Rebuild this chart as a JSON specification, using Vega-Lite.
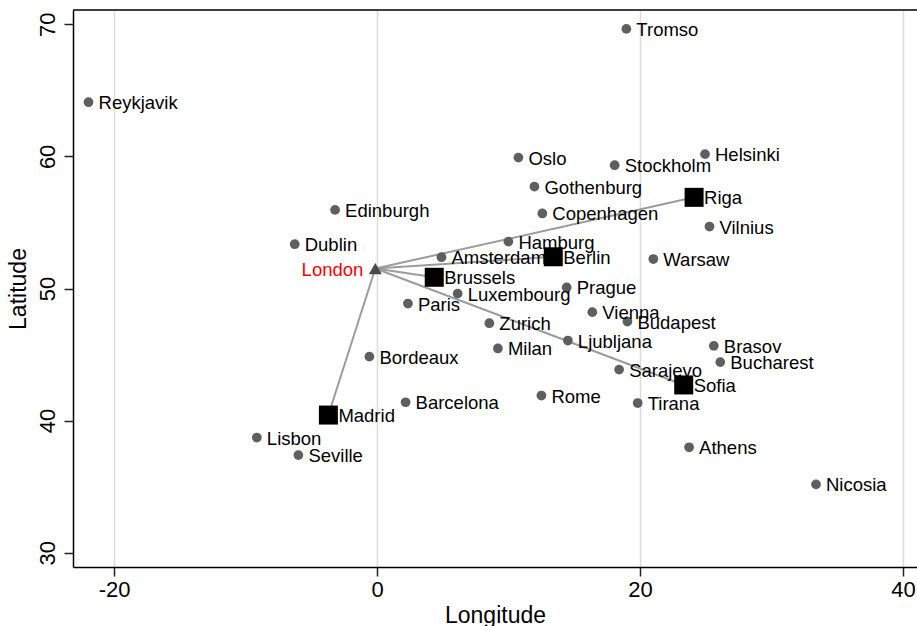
{
  "$schema": "https://vega.github.io/schema/vega-lite/v6.json",
  "width": 844,
  "height": 557,
  "autosize": "none",
  "padding": {"left": 73, "top": 10, "right": 0, "bottom": 59},
  "background": "white",
  "config": {
    "view": {"stroke": null},
    "font": "Liberation Sans",
    "axis": {
      "labelFont": "Liberation Sans",
      "titleFont": "Liberation Sans",
      "labelColor": "black",
      "titleColor": "black",
      "titleFontWeight": "normal",
      "domainColor": "black",
      "domainWidth": 1.5,
      "tickColor": "#222222",
      "tickWidth": 1.5,
      "tickSize": 9,
      "labelFontSize": 22,
      "titleFontSize": 23
    }
  },
  "datasets": {
    "cities": [
      {"name": "Reykjavik", "lon": -21.94, "lat": 64.1, "kind": "city"},
      {"name": "Tromso", "lon": 18.96, "lat": 69.65, "kind": "city"},
      {"name": "Oslo", "lon": 10.75, "lat": 59.91, "kind": "city"},
      {"name": "Stockholm", "lon": 18.07, "lat": 59.33, "kind": "city"},
      {"name": "Helsinki", "lon": 24.94, "lat": 60.17, "kind": "city"},
      {"name": "Gothenburg", "lon": 11.97, "lat": 57.71, "kind": "city"},
      {"name": "Riga", "lon": 24.11, "lat": 56.9, "kind": "dest"},
      {"name": "Edinburgh", "lon": -3.19, "lat": 55.95, "kind": "city"},
      {"name": "Copenhagen", "lon": 12.57, "lat": 55.68, "kind": "city"},
      {"name": "Vilnius", "lon": 25.28, "lat": 54.69, "kind": "city"},
      {"name": "Dublin", "lon": -6.26, "lat": 53.35, "kind": "city"},
      {"name": "Hamburg", "lon": 9.99, "lat": 53.55, "kind": "city"},
      {"name": "Amsterdam", "lon": 4.9, "lat": 52.37, "kind": "city"},
      {"name": "Berlin", "lon": 13.4, "lat": 52.4, "kind": "dest"},
      {"name": "Warsaw", "lon": 21.01, "lat": 52.23, "kind": "city"},
      {"name": "London", "lon": -0.13, "lat": 51.51, "kind": "origin"},
      {"name": "Brussels", "lon": 4.35, "lat": 50.85, "kind": "dest"},
      {"name": "Luxembourg", "lon": 6.13, "lat": 49.61, "kind": "city"},
      {"name": "Prague", "lon": 14.42, "lat": 50.08, "kind": "city"},
      {"name": "Paris", "lon": 2.35, "lat": 48.86, "kind": "city"},
      {"name": "Vienna", "lon": 16.37, "lat": 48.21, "kind": "city"},
      {"name": "Budapest", "lon": 19.04, "lat": 47.5, "kind": "city"},
      {"name": "Zurich", "lon": 8.54, "lat": 47.37, "kind": "city"},
      {"name": "Ljubljana", "lon": 14.51, "lat": 46.06, "kind": "city"},
      {"name": "Brasov", "lon": 25.61, "lat": 45.66, "kind": "city"},
      {"name": "Bordeaux", "lon": -0.58, "lat": 44.84, "kind": "city"},
      {"name": "Milan", "lon": 9.19, "lat": 45.46, "kind": "city"},
      {"name": "Bucharest", "lon": 26.1, "lat": 44.43, "kind": "city"},
      {"name": "Sarajevo", "lon": 18.41, "lat": 43.86, "kind": "city"},
      {"name": "Sofia", "lon": 23.32, "lat": 42.7, "kind": "dest"},
      {"name": "Rome", "lon": 12.5, "lat": 41.9, "kind": "city"},
      {"name": "Barcelona", "lon": 2.17, "lat": 41.39, "kind": "city"},
      {"name": "Tirana", "lon": 19.82, "lat": 41.33, "kind": "city"},
      {"name": "Madrid", "lon": -3.7, "lat": 40.42, "kind": "dest"},
      {"name": "Lisbon", "lon": -9.14, "lat": 38.72, "kind": "city"},
      {"name": "Athens", "lon": 23.73, "lat": 37.98, "kind": "city"},
      {"name": "Seville", "lon": -5.98, "lat": 37.39, "kind": "city"},
      {"name": "Nicosia", "lon": 33.38, "lat": 35.17, "kind": "city"}
    ],
    "routes": [
      {"to": "Madrid", "lon1": -0.13, "lat1": 51.51, "lon2": -3.7, "lat2": 40.42},
      {"to": "Brussels", "lon1": -0.13, "lat1": 51.51, "lon2": 4.35, "lat2": 50.85},
      {"to": "Berlin", "lon1": -0.13, "lat1": 51.51, "lon2": 13.4, "lat2": 52.4},
      {"to": "Riga", "lon1": -0.13, "lat1": 51.51, "lon2": 24.11, "lat2": 56.9},
      {"to": "Sofia", "lon1": -0.13, "lat1": 51.51, "lon2": 23.32, "lat2": 42.7}
    ]
  },
  "layer": [
    {
      "data": {"name": "routes"},
      "mark": {"type": "rule", "color": "#9c9c9c", "strokeWidth": 2},
      "encoding": {
        "x": {
          "field": "lon1", "type": "quantitative",
          "scale": {"domain": [-23.12, 41.06], "nice": false, "zero": false},
          "axis": {
            "title": "Longitude",
            "values": [-20, 0, 20, 40],
            "labelExpr": "toString(datum.value)",
            "grid": true,
            "gridColor": "#dcdcdc",
            "gridWidth": 1.5,
            "labelPadding": 3,
            "titlePadding": 4,
            "labelFlush": false
          }
        },
        "y": {
          "field": "lat1", "type": "quantitative",
          "scale": {"domain": [28.92, 71.08], "nice": false, "zero": false},
          "axis": {
            "title": "Latitude",
            "values": [30, 40, 50, 60, 70],
            "grid": false,
            "labelAngle": 270,
            "labelAlign": "center",
            "labelBaseline": "alphabetic",
            "labelPadding": 10,
            "titlePadding": 6,
            "labelFlush": false
          }
        },
        "x2": {"field": "lon2"},
        "y2": {"field": "lat2"}
      }
    },
    {
      "data": {"name": "cities"},
      "transform": [{"filter": "datum.kind === 'city'"}],
      "mark": {"type": "circle", "size": 95, "color": "#5f5f5f", "opacity": 1},
      "encoding": {
        "x": {"field": "lon", "type": "quantitative"},
        "y": {"field": "lat", "type": "quantitative"}
      }
    },
    {
      "data": {"name": "cities"},
      "transform": [{"filter": "datum.kind === 'dest'"}],
      "mark": {"type": "square", "size": 361, "color": "black", "opacity": 1},
      "encoding": {
        "x": {"field": "lon", "type": "quantitative"},
        "y": {"field": "lat", "type": "quantitative"}
      }
    },
    {
      "data": {"name": "cities"},
      "transform": [{"filter": "datum.kind === 'origin'"}],
      "mark": {"type": "point", "shape": "triangle-up", "size": 170, "filled": true, "color": "#4a4a4a", "opacity": 1},
      "encoding": {
        "x": {"field": "lon", "type": "quantitative"},
        "y": {"field": "lat", "type": "quantitative"}
      }
    },
    {
      "data": {"name": "cities"},
      "transform": [{"filter": "datum.kind !== 'origin'"}],
      "mark": {"type": "text", "align": "left", "baseline": "middle", "dx": 10, "dy": 1, "fontSize": 18.5, "color": "black", "font": "Liberation Sans"},
      "encoding": {
        "x": {"field": "lon", "type": "quantitative"},
        "y": {"field": "lat", "type": "quantitative"},
        "text": {"field": "name"}
      }
    },
    {
      "data": {"name": "cities"},
      "transform": [{"filter": "datum.kind === 'origin'"}],
      "mark": {"type": "text", "align": "right", "baseline": "middle", "dx": -12, "dy": 1, "fontSize": 18.5, "color": "#ff0000", "font": "Liberation Sans"},
      "encoding": {
        "x": {"field": "lon", "type": "quantitative"},
        "y": {"field": "lat", "type": "quantitative"},
        "text": {"field": "name"}
      }
    },
    {
      "data": {"values": [{"top": 71.08}]},
      "mark": {"type": "rule", "color": "black", "strokeWidth": 1.5},
      "encoding": {
        "y": {"field": "top", "type": "quantitative"}
      }
    }
  ]
}
